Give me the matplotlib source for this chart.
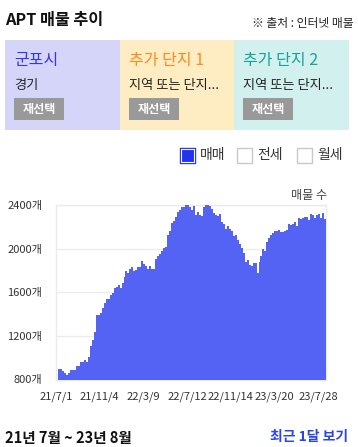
import matplotlib
matplotlib.use("Agg")
import matplotlib.pyplot as plt
from matplotlib.patches import Rectangle

plt.rcParams['font.family'] = ['Noto Sans CJK KR', 'DejaVu Sans']

# ---- data ----
listing_counts = [
    892, 892, 880, 864, 840, 861, 886, 886, 886, 926, 926, 956, 956, 978, 963, 1009, 1110, 1162, 1239, 1392,
    1392, 1407, 1453, 1499, 1536, 1542, 1576, 1597, 1637, 1646, 1662, 1637, 1683, 1738, 1797, 1781, 1815, 1830,
    1791, 1800, 1830, 1830, 1889, 1861, 1843, 1815, 1843, 1815, 1815, 1904, 1935, 1950, 1981, 2002, 2011, 2128,
    2159, 2235, 2251, 2291, 2337, 2358, 2383, 2383, 2419, 2419, 2383, 2358, 2395, 2312, 2337, 2312, 2297, 2383,
    2404, 2419, 2389, 2364, 2327, 2312, 2303, 2321, 2242, 2229, 2183, 2205, 2183, 2159, 2119, 2128, 2076, 2045,
    2005, 1959, 1876, 1892, 1852, 1843, 1867, 1867, 1781, 1873, 1935, 1996, 1975, 2064, 2097, 2128, 2143, 2165,
    2159, 2168, 2156, 2150, 2159, 2168, 2229, 2220, 2229, 2242, 2211, 2281, 2275, 2281, 2291, 2291, 2266, 2318,
    2312, 2281, 2312, 2321, 2281, 2327, 2272,
]
x_tick_labels = ['21/7/1', '21/11/4', '22/3/9', '22/7/12', '22/11/14', '23/3/20', '23/7/28']
y_ticks = [800, 1200, 1600, 2000, 2400]
y_tick_labels = ['800개', '1200개', '1600개', '2000개', '2400개']
region_titles = ['군포시', '추가 단지 1', '추가 단지 2']
region_subtitles = ['경기', '지역 또는 단지...', '지역 또는 단지...']
legend_labels = ['매매', '전세', '월세']

W, H = 358, 447
fig = plt.figure(figsize=(W / 100, H / 100), dpi=100)


def fx(px):
    return px / W


def fy(py):
    return 1 - py / H


def txt(x, y, s, **kw):
    kw.setdefault('va', 'center')
    fig.text(fx(x), fy(y), s, **kw)


def rect(x0, y0, x1, y1, **kw):
    fig.patches.append(Rectangle((fx(x0), fy(y1)), fx(x1) - fx(x0), fy(y0) - fy(y1),
                                 transform=fig.transFigure, figure=fig, **kw))


# header
txt(5, 20, 'APT 매물 추이', fontsize=11.7, fontweight='bold', color='#111111')
txt(354, 23, '※ 출처 : 인터넷 매물', fontsize=8.5, ha='right', color='#222222')

# region panels
panel_colors = ['#D5D5FA', '#FEEDC2', '#D2F0EE']
title_colors = ['#3535E6', '#FF8A1F', '#14A39A']
panel_x = [5, 120, 234, 349]
for i in range(3):
    x0, x1 = panel_x[i], panel_x[i + 1]
    rect(x0, 40, x1, 130, facecolor=panel_colors[i], edgecolor='none')
    txt(x0 + 9, 61, region_titles[i], fontsize=11.5, color=title_colors[i])
    txt(x0 + 9, 85, region_subtitles[i], fontsize=9.5, color='#222222')
    rect(x0 + 9, 98, x0 + 59, 120, facecolor='#999999', edgecolor='none')
    txt(x0 + 34, 109, '재선택', fontsize=8.7, fontweight='bold', color='white', ha='center')

# legend checkboxes
box_x = [180, 237, 297]
for i in range(3):
    bx = box_x[i]
    if i == 0:
        rect(bx, 148, bx + 15, 163, facecolor='#2233EE', edgecolor='#2233EE', linewidth=1)
        rect(bx + 1.5, 149.5, bx + 13.5, 161.5, facecolor='#2233EE', edgecolor='white', linewidth=0.8)
    else:
        rect(bx, 148, bx + 15, 163, facecolor='white', edgecolor='#C8C8D0', linewidth=1)
    txt(bx + 20, 155.5, legend_labels[i], fontsize=10, color='#333333')

# chart
ax = fig.add_axes([fx(56), fy(379.5), fx(326) - fx(56), fy(205) - fy(379.5)])
n = len(listing_counts)
ax.bar(range(n), listing_counts, width=1.0, color='#5563F5', linewidth=0, zorder=2)
ax.set_xlim(-0.5, n - 0.5)
ax.set_ylim(800, 2400)
ax.set_yticks(y_ticks)
ax.set_yticklabels(y_tick_labels, fontsize=8, color='#333333')
ax.yaxis.grid(True, color='#EBEBEB', linewidth=1, zorder=0)
ax.set_axisbelow(True)
tick_pos = [-1.5 + 22 * k for k in range(len(x_tick_labels))]
ax.set_xticks(tick_pos)
ax.set_xticklabels(x_tick_labels, fontsize=8, color='#333333')
ax.tick_params(axis='both', length=0)
ax.tick_params(axis='y', pad=10)
ax.tick_params(axis='x', pad=9)
for s in ax.spines.values():
    s.set_color('#EBEBEB')
    s.set_linewidth(1)
    s.set_zorder(1)

txt(327, 195.5, '매물 수', fontsize=8.7, color='#444444', ha='right')

# footer
txt(5, 438, '21년 7월 ~ 23년 8월', fontsize=10.5, fontweight='bold', color='#111111')
txt(348, 437, '최근 1달 보기', fontsize=10, fontweight='bold', color='#2A44E6', ha='right')

fig.savefig('out.png', dpi=100)
